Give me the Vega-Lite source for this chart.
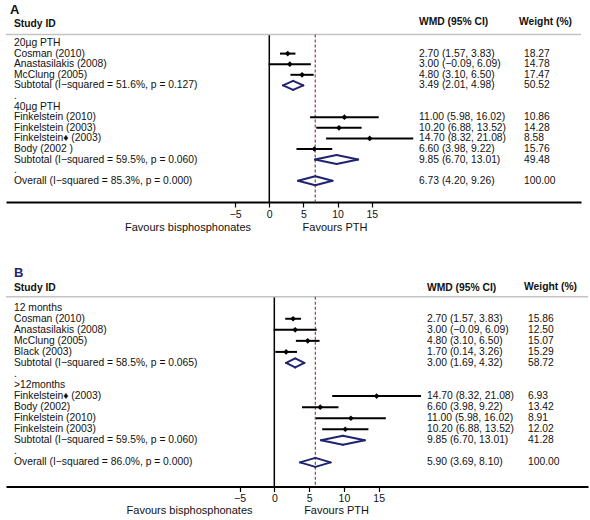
{
  "$schema": "https://vega.github.io/schema/vega-lite/v6.json",
  "padding": {"left": 5, "top": 0, "right": 0, "bottom": 0},
  "bounds": "flush",
  "spacing": 60,
  "config": {
    "view": {"stroke": null},
    "text": {"font": "Liberation Sans", "fontSize": 10.3, "color": "#111111"},
    "axisX": {"grid": false, "domainColor": "#000000", "domainWidth": 2, "tickColor": "#000000", "tickWidth": 1.2, "tickSize": 5, "labelFont": "Liberation Sans", "labelFontSize": 10.5, "labelColor": "#111111", "labelPadding": 2}
  },
  "datasets": {
    "A": [
      {"row": 0, "label": "20µg PTH", "type": "head"},
      {"row": 1, "label": "Cosman (2010)", "type": "study", "est": 2.70, "lo": 1.57, "hi": 3.83, "ci": "2.70 (1.57, 3.83)", "w": "18.27"},
      {"row": 2, "label": "Anastasilakis (2008)", "type": "study", "est": 3.00, "lo": -0.09, "hi": 6.09, "ci": "3.00 (−0.09, 6.09)", "w": "14.78"},
      {"row": 3, "label": "McClung (2005)", "type": "study", "est": 4.80, "lo": 3.10, "hi": 6.50, "ci": "4.80 (3.10, 6.50)", "w": "17.47"},
      {"row": 4, "label": "Subtotal  (I−squared = 51.6%, p = 0.127)", "type": "sub", "est": 3.49, "lo": 2.01, "hi": 4.98, "ci": "3.49 (2.01, 4.98)", "w": "50.52"},
      {"row": 5, "label": ".", "type": "dot"},
      {"row": 6, "label": "40µg PTH", "type": "head"},
      {"row": 7, "label": "Finkelstein (2010)", "type": "study", "est": 11.00, "lo": 5.98, "hi": 16.02, "ci": "11.00 (5.98, 16.02)", "w": "10.86"},
      {"row": 8, "label": "Finkelstein (2003)", "type": "study", "est": 10.20, "lo": 6.88, "hi": 13.52, "ci": "10.20 (6.88, 13.52)", "w": "14.28"},
      {"row": 9, "label": "Finkelstein♦ (2003)", "type": "study", "est": 14.70, "lo": 8.32, "hi": 21.08, "ci": "14.70 (8.32, 21.08)", "w": "8.58"},
      {"row": 10, "label": "Body (2002 )", "type": "study", "est": 6.60, "lo": 3.98, "hi": 9.22, "ci": "6.60 (3.98, 9.22)", "w": "15.76"},
      {"row": 11, "label": "Subtotal  (I−squared = 59.5%, p = 0.060)", "type": "sub", "est": 9.85, "lo": 6.70, "hi": 13.01, "ci": "9.85 (6.70, 13.01)", "w": "49.48"},
      {"row": 12, "label": ".", "type": "dot"},
      {"row": 13, "label": "Overall  (I−squared = 85.3%, p = 0.000)", "type": "sub", "est": 6.73, "lo": 4.20, "hi": 9.26, "ci": "6.73 (4.20, 9.26)", "w": "100.00"}
    ],
    "B": [
      {"row": 0, "label": "12 months", "type": "head"},
      {"row": 1, "label": "Cosman (2010)", "type": "study", "est": 2.70, "lo": 1.57, "hi": 3.83, "ci": "2.70 (1.57, 3.83)", "w": "15.86"},
      {"row": 2, "label": "Anastasilakis (2008)", "type": "study", "est": 3.00, "lo": -0.09, "hi": 6.09, "ci": "3.00 (−0.09, 6.09)", "w": "12.50"},
      {"row": 3, "label": "McClung (2005)", "type": "study", "est": 4.80, "lo": 3.10, "hi": 6.50, "ci": "4.80 (3.10, 6.50)", "w": "15.07"},
      {"row": 4, "label": "Black (2003)", "type": "study", "est": 1.70, "lo": 0.14, "hi": 3.26, "ci": "1.70 (0.14, 3.26)", "w": "15.29"},
      {"row": 5, "label": "Subtotal  (I−squared = 58.5%, p = 0.065)", "type": "sub", "est": 3.00, "lo": 1.69, "hi": 4.32, "ci": "3.00 (1.69, 4.32)", "w": "58.72"},
      {"row": 6, "label": ".", "type": "dot"},
      {"row": 7, "label": ">12months", "type": "head"},
      {"row": 8, "label": "Finkelstein♦ (2003)", "type": "study", "est": 14.70, "lo": 8.32, "hi": 21.08, "ci": "14.70 (8.32, 21.08)", "w": "6.93"},
      {"row": 9, "label": "Body (2002)", "type": "study", "est": 6.60, "lo": 3.98, "hi": 9.22, "ci": "6.60 (3.98, 9.22)", "w": "13.42"},
      {"row": 10, "label": "Finkelstein (2010)", "type": "study", "est": 11.00, "lo": 5.98, "hi": 16.02, "ci": "11.00 (5.98, 16.02)", "w": "8.91"},
      {"row": 11, "label": "Finkelstein (2003)", "type": "study", "est": 10.20, "lo": 6.88, "hi": 13.52, "ci": "10.20 (6.88, 13.52)", "w": "12.02"},
      {"row": 12, "label": "Subtotal  (I−squared = 59.5%, p = 0.060)", "type": "sub", "est": 9.85, "lo": 6.70, "hi": 13.01, "ci": "9.85 (6.70, 13.01)", "w": "41.28"},
      {"row": 13, "label": ".", "type": "dot"},
      {"row": 14, "label": "Overall  (I−squared = 86.0%, p = 0.000)", "type": "sub", "est": 5.90, "lo": 3.69, "hi": 8.10, "ci": "5.90 (3.69, 8.10)", "w": "100.00"}
    ]
  },
  "vconcat": [
    {
      "width": 575,
      "height": 202,
      "data": {"name": "A"},
      "layer": [
        {
          "data": {"values": [{}]},
          "mark": {"type": "rule", "color": "#000000", "strokeWidth": 1.5},
          "encoding": {
            "x": {"datum": 0, "type": "quantitative", "scale": {"domain": [-38.55, 45.64], "nice": false, "zero": false}, "axis": {"values": [-5, 0, 5, 10, 15], "title": null}},
            "y": {"datum": -0.8, "type": "quantitative", "scale": {"domain": [15.0, -4.057], "nice": false, "zero": false}, "axis": null},
            "y2": {"datum": 15.0}
          }
        },
        {
          "data": {"values": [{}]},
          "mark": {"type": "rule", "color": "#c4c4c4", "strokeWidth": 1.5},
          "encoding": {"y": {"datum": -0.8, "type": "quantitative", "axis": null}}
        },
        {
          "data": {"values": [{}]},
          "mark": {"type": "rule", "color": "#9b5050", "strokeWidth": 1.3, "strokeDash": [3, 2]},
          "encoding": {
            "x": {"datum": 6.73, "type": "quantitative"},
            "y": {"datum": -0.8, "type": "quantitative", "axis": null},
            "y2": {"datum": 15.0}
          }
        },
        {
          "transform": [{"filter": "datum.type === 'study'"}],
          "mark": {"type": "rule", "color": "#000000", "strokeWidth": 2},
          "encoding": {
            "x": {"field": "lo", "type": "quantitative", "title": null},
            "x2": {"field": "hi"},
            "y": {"field": "row", "type": "quantitative", "axis": null}
          }
        },
        {
          "transform": [{"filter": "datum.type === 'study'"}],
          "mark": {"type": "point", "shape": "diamond", "filled": true, "color": "#000000", "size": 32, "opacity": 1},
          "encoding": {
            "x": {"field": "est", "type": "quantitative", "title": null},
            "y": {"field": "row", "type": "quantitative", "axis": null}
          }
        },
        {
          "transform": [{"filter": "datum.type === 'sub'"}],
          "mark": {"type": "rule", "color": "#1f2470", "strokeWidth": 2, "strokeCap": "round", "y2Offset": -4.5},
          "encoding": {"x": {"field": "lo", "type": "quantitative", "title": null}, "x2": {"field": "est"}, "y": {"field": "row", "type": "quantitative", "axis": null}, "y2": {"field": "row"}}
        },
        {
          "transform": [{"filter": "datum.type === 'sub'"}],
          "mark": {"type": "rule", "color": "#1f2470", "strokeWidth": 2, "strokeCap": "round", "y2Offset": 4.5},
          "encoding": {"x": {"field": "lo", "type": "quantitative", "title": null}, "x2": {"field": "est"}, "y": {"field": "row", "type": "quantitative", "axis": null}, "y2": {"field": "row"}}
        },
        {
          "transform": [{"filter": "datum.type === 'sub'"}],
          "mark": {"type": "rule", "color": "#1f2470", "strokeWidth": 2, "strokeCap": "round", "yOffset": -4.5},
          "encoding": {"x": {"field": "est", "type": "quantitative", "title": null}, "x2": {"field": "hi"}, "y": {"field": "row", "type": "quantitative", "axis": null}, "y2": {"field": "row"}}
        },
        {
          "transform": [{"filter": "datum.type === 'sub'"}],
          "mark": {"type": "rule", "color": "#1f2470", "strokeWidth": 2, "strokeCap": "round", "yOffset": 4.5},
          "encoding": {"x": {"field": "est", "type": "quantitative", "title": null}, "x2": {"field": "hi"}, "y": {"field": "row", "type": "quantitative", "axis": null}, "y2": {"field": "row"}}
        },
        {
          "mark": {"type": "text", "align": "left", "baseline": "middle"},
          "encoding": {
            "x": {"datum": -37.38, "type": "quantitative"},
            "y": {"field": "row", "type": "quantitative", "axis": null},
            "text": {"field": "label"}
          }
        },
        {
          "transform": [{"filter": "datum.ci"}],
          "mark": {"type": "text", "align": "left", "baseline": "middle"},
          "encoding": {
            "x": {"datum": 21.92, "type": "quantitative"},
            "y": {"field": "row", "type": "quantitative", "axis": null},
            "text": {"field": "ci"}
          }
        },
        {
          "transform": [{"filter": "datum.w"}],
          "mark": {"type": "text", "align": "left", "baseline": "middle"},
          "encoding": {
            "x": {"datum": 37.29, "type": "quantitative"},
            "y": {"field": "row", "type": "quantitative", "axis": null},
            "text": {"field": "w"}
          }
        },
        {
          "data": {"values": [{}]},
          "mark": {"type": "text", "align": "left", "baseline": "middle", "fontWeight": "bold", "fontSize": 13, "text": "A"},
          "encoding": {"x": {"datum": -37.97, "type": "quantitative"}, "y": {"datum": -3.11, "type": "quantitative", "axis": null}}
        },
        {
          "data": {"values": [{}]},
          "mark": {"type": "text", "align": "left", "baseline": "middle", "fontWeight": "bold", "text": "Study ID"},
          "encoding": {"x": {"datum": -37.38, "type": "quantitative"}, "y": {"datum": -1.8, "type": "quantitative", "axis": null}}
        },
        {
          "data": {"values": [{}]},
          "mark": {"type": "text", "align": "left", "baseline": "middle", "fontWeight": "bold", "text": "WMD (95% CI)"},
          "encoding": {"x": {"datum": 21.92, "type": "quantitative"}, "y": {"datum": -1.98, "type": "quantitative", "axis": null}}
        },
        {
          "data": {"values": [{}]},
          "mark": {"type": "text", "align": "left", "baseline": "middle", "fontWeight": "bold", "text": "Weight (%)"},
          "encoding": {"x": {"datum": 36.56, "type": "quantitative"}, "y": {"datum": -1.98, "type": "quantitative", "axis": null}}
        },
        {
          "data": {"values": [{}]},
          "mark": {"type": "text", "align": "center", "baseline": "middle", "fontSize": 11, "text": "Favours bisphosphonates"},
          "encoding": {"x": {"datum": -11.9, "type": "quantitative"}, "y": {"datum": 17.45, "type": "quantitative", "axis": null}}
        },
        {
          "data": {"values": [{}]},
          "mark": {"type": "text", "align": "center", "baseline": "middle", "fontSize": 11, "text": "Favours PTH"},
          "encoding": {"x": {"datum": 9.62, "type": "quantitative"}, "y": {"datum": 17.45, "type": "quantitative", "axis": null}}
        }
      ]
    },
    {
      "width": 582,
      "height": 224.5,
      "data": {"name": "B"},
      "layer": [
        {
          "data": {"values": [{}]},
          "mark": {"type": "rule", "color": "#000000", "strokeWidth": 1.5},
          "encoding": {
            "x": {"datum": 0, "type": "quantitative", "scale": {"domain": [-38.55, 45.07], "nice": false, "zero": false}, "axis": {"values": [-5, 0, 5, 10, 15], "title": null}},
            "y": {"datum": -1.0, "type": "quantitative", "scale": {"domain": [16.18, -4.136], "nice": false, "zero": false}, "axis": null},
            "y2": {"datum": 16.18}
          }
        },
        {
          "data": {"values": [{}]},
          "mark": {"type": "rule", "color": "#c4c4c4", "strokeWidth": 1.5},
          "encoding": {"y": {"datum": -1.0, "type": "quantitative", "axis": null}}
        },
        {
          "data": {"values": [{}]},
          "mark": {"type": "rule", "color": "#9b5050", "strokeWidth": 1.3, "strokeDash": [3, 2]},
          "encoding": {
            "x": {"datum": 5.90, "type": "quantitative"},
            "y": {"datum": -1.0, "type": "quantitative", "axis": null},
            "y2": {"datum": 16.18}
          }
        },
        {
          "transform": [{"filter": "datum.type === 'study'"}],
          "mark": {"type": "rule", "color": "#000000", "strokeWidth": 2},
          "encoding": {
            "x": {"field": "lo", "type": "quantitative", "title": null},
            "x2": {"field": "hi"},
            "y": {"field": "row", "type": "quantitative", "axis": null}
          }
        },
        {
          "transform": [{"filter": "datum.type === 'study'"}],
          "mark": {"type": "point", "shape": "diamond", "filled": true, "color": "#000000", "size": 32, "opacity": 1},
          "encoding": {
            "x": {"field": "est", "type": "quantitative", "title": null},
            "y": {"field": "row", "type": "quantitative", "axis": null}
          }
        },
        {
          "transform": [{"filter": "datum.type === 'sub'"}],
          "mark": {"type": "rule", "color": "#1f2470", "strokeWidth": 2, "strokeCap": "round", "y2Offset": -4.5},
          "encoding": {"x": {"field": "lo", "type": "quantitative", "title": null}, "x2": {"field": "est"}, "y": {"field": "row", "type": "quantitative", "axis": null}, "y2": {"field": "row"}}
        },
        {
          "transform": [{"filter": "datum.type === 'sub'"}],
          "mark": {"type": "rule", "color": "#1f2470", "strokeWidth": 2, "strokeCap": "round", "y2Offset": 4.5},
          "encoding": {"x": {"field": "lo", "type": "quantitative", "title": null}, "x2": {"field": "est"}, "y": {"field": "row", "type": "quantitative", "axis": null}, "y2": {"field": "row"}}
        },
        {
          "transform": [{"filter": "datum.type === 'sub'"}],
          "mark": {"type": "rule", "color": "#1f2470", "strokeWidth": 2, "strokeCap": "round", "yOffset": -4.5},
          "encoding": {"x": {"field": "est", "type": "quantitative", "title": null}, "x2": {"field": "hi"}, "y": {"field": "row", "type": "quantitative", "axis": null}, "y2": {"field": "row"}}
        },
        {
          "transform": [{"filter": "datum.type === 'sub'"}],
          "mark": {"type": "rule", "color": "#1f2470", "strokeWidth": 2, "strokeCap": "round", "yOffset": 4.5},
          "encoding": {"x": {"field": "est", "type": "quantitative", "title": null}, "x2": {"field": "hi"}, "y": {"field": "row", "type": "quantitative", "axis": null}, "y2": {"field": "row"}}
        },
        {
          "mark": {"type": "text", "align": "left", "baseline": "middle"},
          "encoding": {
            "x": {"datum": -37.4, "type": "quantitative"},
            "y": {"field": "row", "type": "quantitative", "axis": null},
            "text": {"field": "label"}
          }
        },
        {
          "transform": [{"filter": "datum.ci"}],
          "mark": {"type": "text", "align": "left", "baseline": "middle"},
          "encoding": {
            "x": {"datum": 21.94, "type": "quantitative"},
            "y": {"field": "row", "type": "quantitative", "axis": null},
            "text": {"field": "ci"}
          }
        },
        {
          "transform": [{"filter": "datum.w"}],
          "mark": {"type": "text", "align": "left", "baseline": "middle"},
          "encoding": {
            "x": {"datum": 36.45, "type": "quantitative"},
            "y": {"field": "row", "type": "quantitative", "axis": null},
            "text": {"field": "w"}
          }
        },
        {
          "data": {"values": [{}]},
          "mark": {"type": "text", "align": "left", "baseline": "middle", "fontWeight": "bold", "fontSize": 13, "text": "B", "color": "#1f2470"},
          "encoding": {"x": {"datum": -37.4, "type": "quantitative"}, "y": {"datum": -3.14, "type": "quantitative", "axis": null}}
        },
        {
          "data": {"values": [{}]},
          "mark": {"type": "text", "align": "left", "baseline": "middle", "fontWeight": "bold", "text": "Study ID"},
          "encoding": {"x": {"datum": -37.4, "type": "quantitative"}, "y": {"datum": -1.78, "type": "quantitative", "axis": null}}
        },
        {
          "data": {"values": [{}]},
          "mark": {"type": "text", "align": "left", "baseline": "middle", "fontWeight": "bold", "text": "WMD (95% CI)"},
          "encoding": {"x": {"datum": 21.94, "type": "quantitative"}, "y": {"datum": -1.76, "type": "quantitative", "axis": null}}
        },
        {
          "data": {"values": [{}]},
          "mark": {"type": "text", "align": "left", "baseline": "middle", "fontWeight": "bold", "text": "Weight (%)"},
          "encoding": {"x": {"datum": 35.88, "type": "quantitative"}, "y": {"datum": -1.9, "type": "quantitative", "axis": null}}
        },
        {
          "data": {"values": [{}]},
          "mark": {"type": "text", "align": "center", "baseline": "middle", "fontSize": 11, "text": "Favours bisphosphonates"},
          "encoding": {"x": {"datum": -12.18, "type": "quantitative"}, "y": {"datum": 18.4, "type": "quantitative", "axis": null}}
        },
        {
          "data": {"values": [{}]},
          "mark": {"type": "text", "align": "center", "baseline": "middle", "fontSize": 11, "text": "Favours PTH"},
          "encoding": {"x": {"datum": 8.94, "type": "quantitative"}, "y": {"datum": 18.4, "type": "quantitative", "axis": null}}
        }
      ]
    }
  ]
}
